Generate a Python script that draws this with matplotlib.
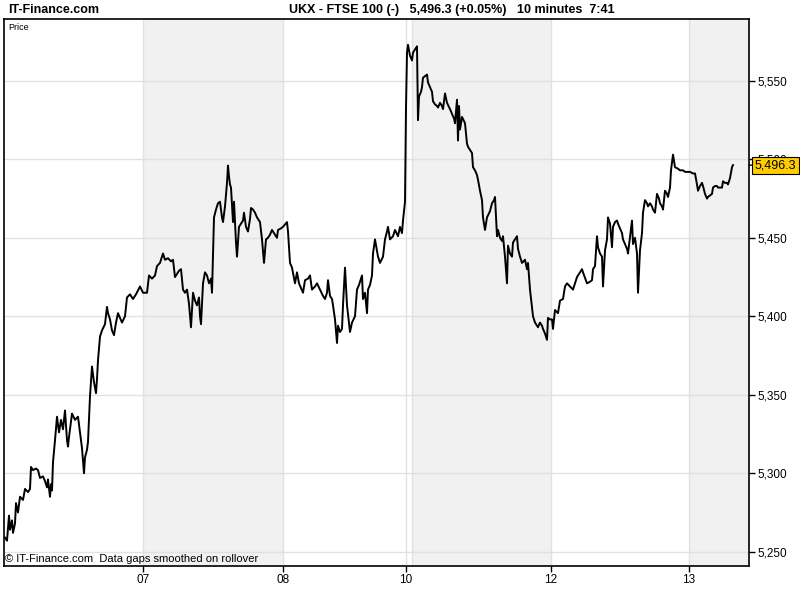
import matplotlib.pyplot as plt
import matplotlib.ticker as mticker

# 10 minute bars, position along the session axis
t = [5, 7, 9, 10, 12, 13, 15, 16, 18, 20, 23, 25, 28, 30, 31, 33, 36, 38, 40, 43,
     45, 47, 48, 50, 51, 52, 53, 55, 57, 59, 61, 63, 65, 67, 68, 69, 72, 75, 78, 80,
     82, 84, 85, 87, 88, 90, 92, 94, 96, 97, 98, 100, 102, 105, 107, 108, 110, 112, 114, 116,
     118, 122, 125, 127, 130, 133, 136, 140, 143, 147, 149, 152, 155, 157, 160, 163, 165, 168, 171, 173,
     175, 177, 179, 181, 183, 185, 187, 189, 191, 193, 195, 197, 199, 200, 201, 203, 205, 207, 209, 211,
     212, 213, 214, 216, 218, 220, 222, 223, 225, 227, 228, 229, 230, 231, 233, 234, 236, 237, 239, 241,
     243, 244, 246, 248, 250, 251, 253, 255, 257, 260, 262, 264, 266, 268, 270, 272, 275, 277, 278, 281,
     283, 287, 288, 290, 292, 295, 297, 299, 301, 303, 305, 308, 310, 312, 315, 317, 320, 323, 325, 327,
     328, 330, 332, 333, 335, 337, 338, 340, 342, 343, 345, 347, 350, 352, 355, 357, 359, 362, 363, 365,
     367, 368, 370, 372, 373, 375, 378, 380, 383, 385, 387, 388, 390, 393, 395, 398, 400, 402, 403, 405,
     406, 407, 408, 410, 412, 413, 415, 417, 418, 419, 421, 422, 423, 425, 427, 428, 430, 432, 433, 435,
     437, 438, 440, 442, 443, 445, 447, 450, 452, 454, 455, 457, 458, 459, 460, 462, 465, 467, 468, 470,
     472, 473, 475, 477, 478, 480, 482, 483, 485, 487, 490, 492, 494, 495, 497, 498, 500, 502, 503, 505,
     507, 508, 510, 512, 513, 515, 517, 518, 520, 522, 525, 527, 528, 530, 532, 533, 535, 537, 538, 540,
     542, 543, 545, 547, 548, 550, 552, 553, 555, 558, 560, 563, 565, 567, 570, 573, 577, 580, 582, 583,
     587, 590, 592, 593, 595, 597, 598, 600, 602, 603, 605, 607, 608, 610, 612, 613, 615, 617, 618, 620,
     622, 623, 625, 627, 628, 632, 633, 635, 637, 638, 640, 642, 643, 645, 647, 648, 650, 652, 653, 655,
     657, 659, 660, 662, 663, 665, 667, 668, 670, 671, 673, 675, 678, 680, 683, 685, 687, 690, 693, 695,
     697, 698, 700, 702, 703, 705, 707, 708, 710, 712, 713, 715, 717, 718, 720, 722, 723, 725, 727, 728,
     730, 732, 733]

price = [5259, 5257, 5273, 5264, 5270, 5262, 5268, 5281, 5275, 5285, 5283, 5290, 5288, 5290, 5304, 5302, 5303, 5302, 5297, 5298,
         5295, 5291, 5296, 5285, 5293, 5289, 5307, 5321, 5336, 5326, 5334, 5328, 5340, 5321, 5317, 5323, 5338, 5334, 5336, 5326,
         5316, 5300, 5310, 5315, 5320, 5349, 5368, 5358, 5351, 5360, 5372, 5387, 5391, 5395, 5406, 5402, 5398, 5391, 5388, 5396,
         5402, 5396, 5400, 5412, 5414, 5411, 5414, 5419, 5415, 5415, 5426, 5424, 5426, 5432, 5434, 5440, 5436, 5437, 5435, 5436,
         5425, 5427, 5429, 5430, 5417, 5415, 5417, 5408, 5393, 5415, 5410, 5407, 5412, 5400, 5395, 5421, 5428, 5426, 5421, 5424,
         5415, 5438, 5463, 5468, 5472, 5473, 5463, 5460, 5470, 5485, 5496, 5489, 5484, 5482, 5460, 5473, 5447, 5438, 5457, 5459,
         5461, 5466, 5457, 5454, 5462, 5469, 5468, 5466, 5463, 5460, 5449, 5434, 5449, 5450, 5452, 5455, 5452, 5450, 5455, 5456,
         5457, 5460, 5454, 5434, 5431, 5421, 5428, 5421, 5418, 5415, 5423, 5424, 5426, 5417, 5419, 5421, 5417, 5413, 5411, 5415,
         5423, 5413, 5411, 5407, 5398, 5383, 5394, 5390, 5392, 5407, 5431, 5407, 5390, 5396, 5400, 5417, 5420, 5426, 5411, 5415,
         5402, 5417, 5420, 5426, 5440, 5449, 5438, 5434, 5438, 5449, 5454, 5457, 5449, 5451, 5455, 5451, 5457, 5453, 5461, 5473,
         5533, 5568, 5573, 5566, 5563, 5568, 5570, 5572, 5525, 5540, 5543, 5546, 5552, 5553, 5554, 5549, 5546, 5543, 5537, 5535,
         5534, 5533, 5536, 5534, 5532, 5542, 5536, 5532, 5529, 5526, 5523, 5538, 5512, 5534, 5519, 5527, 5523, 5510, 5508, 5506,
         5504, 5495, 5493, 5490, 5487, 5480, 5474, 5463, 5455, 5463, 5467, 5472, 5474, 5476, 5451, 5455, 5450, 5448, 5451, 5438,
         5421, 5445, 5440, 5438, 5447, 5449, 5451, 5443, 5438, 5434, 5436, 5430, 5434, 5417, 5406, 5400, 5396, 5394, 5393, 5396,
         5394, 5392, 5389, 5385, 5399, 5398, 5398, 5392, 5404, 5402, 5410, 5411, 5419, 5421, 5419, 5417, 5425, 5428, 5430, 5428,
         5421, 5422, 5423, 5430, 5432, 5451, 5444, 5440, 5438, 5419, 5442, 5449, 5463, 5459, 5444, 5457, 5460, 5461, 5459, 5456,
         5453, 5449, 5446, 5443, 5440, 5461, 5446, 5450, 5440, 5415, 5442, 5453, 5466, 5474, 5472, 5470, 5472, 5470, 5468, 5466,
         5478, 5475, 5472, 5470, 5468, 5480, 5478, 5476, 5482, 5493, 5503, 5495, 5494, 5493, 5493, 5492, 5492, 5492, 5491, 5491,
         5484, 5480, 5483, 5485, 5483, 5478, 5475, 5476, 5477, 5478, 5482, 5483, 5483, 5482, 5482, 5482, 5486, 5485, 5485, 5484,
         5488, 5495, 5496.3]

day_pos = [143, 283, 406, 551, 689]
day_labels = ['07', '08', '10', '12', '13']
day_lines = [143, 283, 406, 412, 551, 689]
shaded = [(143, 283), (412, 551), (689, 749)]
y_ticks = [5250, 5300, 5350, 5400, 5450, 5500, 5550]
last_price = 5496.3

plt.rcParams['font.family'] = ['Liberation Sans', 'DejaVu Sans']

fig = plt.figure(figsize=(8, 6), dpi=100)
ax = fig.add_axes([4 / 800, 34 / 600, 745 / 800, 547.3 / 600])

for a, b in shaded:
    ax.axvspan(a, b, color='#f1f1f1', lw=0, zorder=0)
for x in day_lines:
    ax.axvline(x, color='#e1e1e1', lw=1, zorder=1)
for y in y_ticks:
    ax.axhline(y, color='#e1e1e1', lw=1, zorder=1)

ax.plot(t, price, color='black', lw=1.4, zorder=3)

ax.set_xlim(4, 749)
ax.set_ylim(5240.9, 5589.6)

ax.yaxis.tick_right()
ax.set_yticks(y_ticks)
ax.yaxis.set_major_formatter(mticker.StrMethodFormatter('{x:,.0f}'))
ax.set_xticks(day_pos)
ax.set_xticklabels(day_labels)
ax.tick_params(axis='both', length=4, width=1, labelsize=8.5, pad=2)
for s in ax.spines.values():
    s.set_linewidth(1.2)

# last price marker, drawn over the 5,500 label like the original
ax.annotate(f'{last_price:,.1f}', xy=(1, last_price), xycoords=('axes fraction', 'data'),
            xytext=(4, 0), textcoords='offset points', ha='left', va='center',
            fontsize=9, zorder=10, annotation_clip=False,
            bbox=dict(boxstyle='square,pad=0.2', fc='#ffcc00', ec='black', lw=0.8),
            arrowprops=dict(arrowstyle='-', color='black', lw=1))

ax.text(0.006, 0.993, 'Price', transform=ax.transAxes, fontsize=6.5, va='top', ha='left')
ax.text(0.002, 0.004, '\u00a9 IT-Finance.com  Data gaps smoothed on rollover',
        transform=ax.transAxes, fontsize=8, va='bottom', ha='left')

fig.text(8 / 800, 1 - 10 / 600, 'IT-Finance.com', fontsize=9, fontweight='bold', va='center', ha='left')
fig.text(289 / 800, 1 - 10 / 600, 'UKX - FTSE 100 (-)   5,496.3 (+0.05%)   10 minutes  7:41',
         fontsize=9, fontweight='bold', va='center', ha='left')

fig.savefig('out.png', dpi=100)
